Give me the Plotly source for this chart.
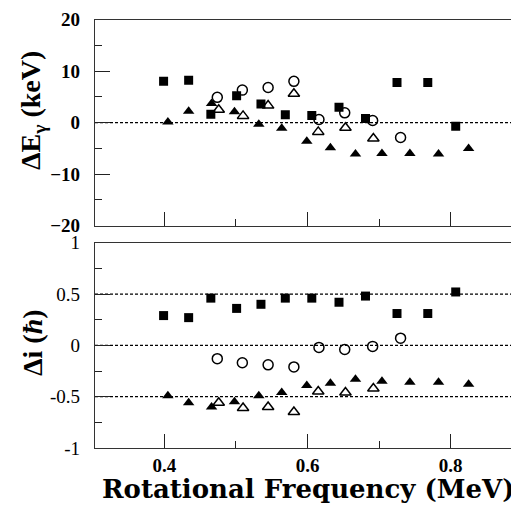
import plotly.graph_objects as go

# ---- data (rotational frequency in MeV) ----
sq_x = [0.399, 0.434, 0.465, 0.501, 0.535, 0.569, 0.606, 0.644, 0.681, 0.725, 0.768, 0.807]
sq_dE = [8.0, 8.2, 1.6, 5.2, 3.6, 1.5, 1.4, 3.0, 0.8, 7.8, 7.8, -0.7]
sq_di = [0.29, 0.27, 0.46, 0.36, 0.40, 0.46, 0.46, 0.42, 0.48, 0.31, 0.31, 0.52]

oc_x = [0.474, 0.509, 0.545, 0.581, 0.616, 0.652, 0.691, 0.730]
oc_dE = [4.9, 6.3, 6.8, 8.0, 0.6, 1.9, 0.4, -2.9]
oc_di = [-0.13, -0.17, -0.19, -0.21, -0.02, -0.04, -0.01, 0.07]

ot_x = [0.476, 0.510, 0.545, 0.581, 0.615, 0.653, 0.692]
ot_dE = [2.5, 1.3, 3.3, 5.6, -1.8, -1.0, -3.1]
ot_di = [-0.56, -0.61, -0.60, -0.65, -0.45, -0.46, -0.42]

ft_x = [0.405, 0.434, 0.466, 0.498, 0.532, 0.564, 0.599, 0.632, 0.667, 0.704, 0.743, 0.783, 0.825]
ft_dE = [0.1, 2.2, 3.7, 2.1, -0.3, -1.1, -3.6, -4.9, -6.1, -6.0, -6.0, -6.1, -5.0]
ft_di = [-0.49, -0.56, -0.60, -0.55, -0.49, -0.46, -0.39, -0.37, -0.33, -0.35, -0.36, -0.36, -0.38]

ref_top = [0]
ref_bot = [0.5, 0, -0.5]

x_range = [0.3032, 0.8954]
OFF = 8                     # page body margin
W, H = 519 - OFF, 516 - OFF
L = 95 - OFF

def py(pix):
    return 1 - (pix - OFF) / H

def px(pix):
    return (pix - OFF - L) / (W - L)

fig = go.Figure()

series = [
    (sq_x, sq_dE, sq_di, "square", 9, None),
    (oc_x, oc_dE, oc_di, "circle-open", 10, 1.5),
    (ot_x, ot_dE, ot_di, "triangle-up-open", 10, 1.5),
    (ft_x, ft_dE, ft_di, "triangle-up", 10, None),
]
for xs, dE, di, sym, sz, lw in series:
    mk = dict(symbol=sym, size=sz, color="black")
    mk["line"] = dict(color="black", width=lw) if lw else dict(width=0)
    fig.add_trace(go.Scatter(x=xs, y=dE, mode="markers", marker=mk, xaxis="x2", yaxis="y2", showlegend=False))
    fig.add_trace(go.Scatter(x=xs, y=di, mode="markers", marker=mk, xaxis="x", yaxis="y", showlegend=False))

for v in ref_top:
    fig.add_shape(type="line", xref="x2 domain", yref="y2", x0=0, x1=1, y0=v, y1=v,
                  line=dict(color="black", width=1.3, dash="3px,2px"), layer="below")
for v in ref_bot:
    fig.add_shape(type="line", xref="x domain", yref="y", x0=0, x1=1, y0=v, y1=v,
                  line=dict(color="black", width=1.3, dash="3px,2px"), layer="below")

tickfont = dict(family="Liberation Serif", size=19, color="black")
axcommon = dict(showgrid=False, zeroline=False, showline=True, linecolor="#333", linewidth=1.3,
                ticks="inside", tickcolor="#222", tickwidth=1.2, automargin=False,
                tickprefix="<b>", ticksuffix="</b>")

fig.update_layout(
    width=W, height=H,
    margin=dict(l=L, r=0, t=0, b=0),
    paper_bgcolor="white", plot_bgcolor="white",
    font=dict(family="Liberation Serif", color="black"),
    xaxis=dict(domain=[0, 1], range=x_range, anchor="y", mirror=True,
               tick0=0.4, dtick=0.2, ticklen=14, tickformat=".1f",
               minor=dict(ticks="inside", dtick=0.1, tick0=0.4, ticklen=7, tickcolor="#222"),
               tickfont=tickfont, ticklabelstandoff=0, **axcommon),
    yaxis=dict(domain=[py(448), py(242.7)], range=[-1, 1], anchor="x",
               ticklen=15,
               minor=dict(ticks="inside", dtick=0.25, tick0=-1, ticklen=7, tickcolor="#222"),
               tickvals=[-1, -0.5, 0, 0.5, 1], ticktext=["-1", "-0.5", "0", "0.5", "1"],
               tickfont=tickfont, ticklabelstandoff=10, **axcommon),
    xaxis2=dict(domain=[0, 1], range=x_range, anchor="y2", mirror=True, matches="x",
                tick0=0.4, dtick=0.2, ticklen=14, showticklabels=False,
                minor=dict(ticks="inside", dtick=0.1, tick0=0.4, ticklen=7, tickcolor="#222"),
                **axcommon),
    yaxis2=dict(domain=[py(225.7), py(19.5)], range=[-20, 20], anchor="x2",
                tick0=-20, dtick=10, ticklen=15,
                minor=dict(ticks="inside", dtick=5, tick0=-20, ticklen=7, tickcolor="#222"),
                tickfont=tickfont, ticklabelstandoff=10, **axcommon),
)

fig.add_annotation(text="<b>ΔE<sub>γ</sub> (keV)</b>", xref="paper", yref="paper",
                   x=px(33), y=py(111), textangle=-90,
                   showarrow=False, xanchor="center", yanchor="middle",
                   font=dict(family="Liberation Serif", size=28, color="black"))
fig.add_annotation(text="<b>Δi (<i>ħ</i>)</b>", xref="paper", yref="paper",
                   x=px(32), y=py(343), textangle=-90,
                   showarrow=False, xanchor="center", yanchor="middle",
                   font=dict(family="Liberation Serif", size=28, color="black"))
fig.add_annotation(text="<b>Rotational Frequency (MeV)</b>", xref="paper", yref="paper",
                   x=px(308), y=py(489), showarrow=False,
                   xanchor="center", yanchor="middle",
                   font=dict(family="DejaVu Serif", size=26, color="black"))

fig.write_html("out.html")
